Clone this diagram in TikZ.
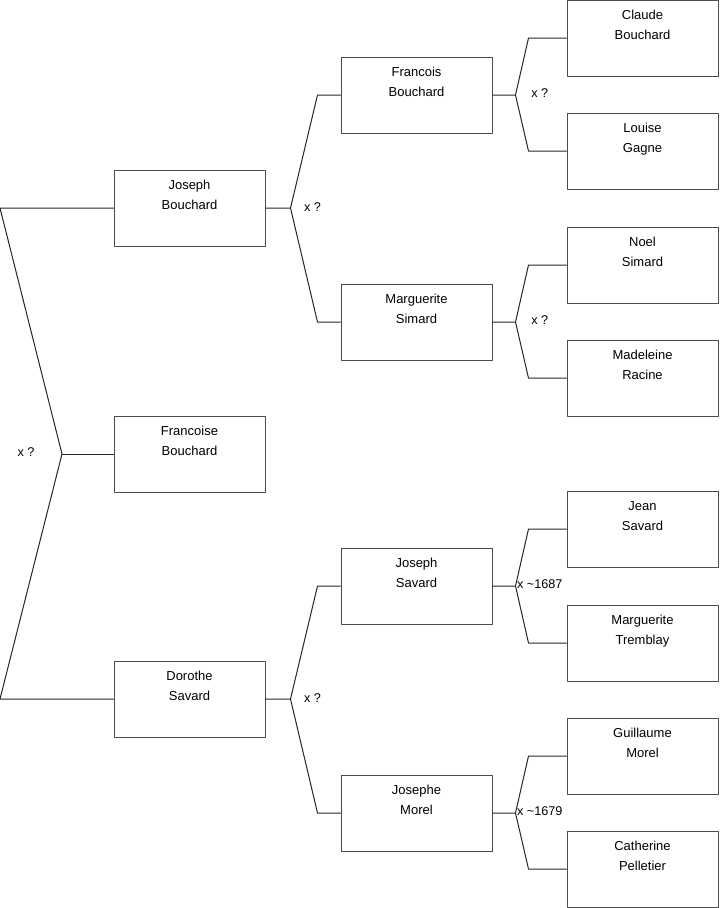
\documentclass[tikz,border=0pt]{standalone}
\usepackage{fontspec}
\setmainfont{Liberation Sans}
\usetikzlibrary{positioning}
\tikzset{
  every picture/.style={line cap=round, line join=round},
  person/.style={draw=black!70, line width=0.75pt, rectangle, inner sep=0pt,
    minimum width=113.25pt, minimum height=57pt, align=center,
    font=\fontsize{9.75}{15}\selectfont},
  link/.style={black!85, line width=0.75pt},
  marr/.style={font=\fontsize{9.5}{11}\selectfont, inner sep=0pt},
}
\begin{document}
\begin{tikzpicture}[x=0.75pt, y=-0.75pt]
\useasboundingbox (0,0) rectangle (719,908);
% children
\node[person] (jb) at (189.5,208) {Joseph\\Bouchard\\\strut};
\node[person] (fb) at (189.5,454) {Francoise\\Bouchard\\\strut};
\node[person] (ds) at (189.5,699) {Dorothe\\Savard\\\strut};
% parents
\node[person] (frb) at (416.5,95) {Francois\\Bouchard\\\strut};
\node[person] (mas) at (416.5,322) {Marguerite\\Simard\\\strut};
\node[person] (jos) at (416.5,586) {Joseph\\Savard\\\strut};
\node[person] (jom) at (416.5,813) {Josephe\\Morel\\\strut};
% grandparents
\node[person] (cb) at (642.5,38) {Claude\\Bouchard\\\strut};
\node[person] (lg) at (642.5,151) {Louise\\Gagne\\\strut};
\node[person] (ns) at (642.5,265) {Noel\\Simard\\\strut};
\node[person] (mr) at (642.5,378) {Madeleine\\Racine\\\strut};
\node[person] (js) at (642.5,529) {Jean\\Savard\\\strut};
\node[person] (mt) at (642.5,643) {Marguerite\\Tremblay\\\strut};
\node[person] (gm) at (642.5,756) {Guillaume\\Morel\\\strut};
\node[person] (cp) at (642.5,869) {Catherine\\Pelletier\\\strut};
% siblings
\coordinate (k0) at (0,208);
\coordinate (k1) at (62,454);
\coordinate (k2) at (0,699);
\draw[link] (jb.west) -- (k0) -- (k1) -- (k2) -- (ds.west);
\draw[link] (k1) -- (fb.west);
\node[marr] (m0) at (26,452) {x ?};
% marriages
\foreach \c/\a/\b/\l in {jb/frb/mas/{x ?}, ds/jos/jom/{x ?}} {
  \draw[link] (\c.east) -- ++(25,0) coordinate (k) -- ([xshift=-17.25pt]\a.west) -- (\a.west);
  \draw[link] (k) -- ([xshift=-17.25pt]\b.west) -- (\b.west);
  \node[marr] (m-\c) at ([xshift=16.5pt,yshift=1pt]k) {\l};
}
\foreach \c/\a/\b/\l in {frb/cb/lg/{x ?}, mas/ns/mr/{x ?},
    jos/js/mt/{x \textasciitilde1687}, jom/gm/cp/{x \textasciitilde1679}} {
  \draw[link] (\c.east) -- ++(23,0) coordinate (k) -- ([xshift=-28.5pt]\a.west) -- (\a.west);
  \draw[link] (k) -- ([xshift=-28.5pt]\b.west) -- (\b.west);
  \node[marr] (m-\c) at ([xshift=18.25pt,yshift=1.5pt]k) {\l};
}
\end{tikzpicture}
\end{document}
